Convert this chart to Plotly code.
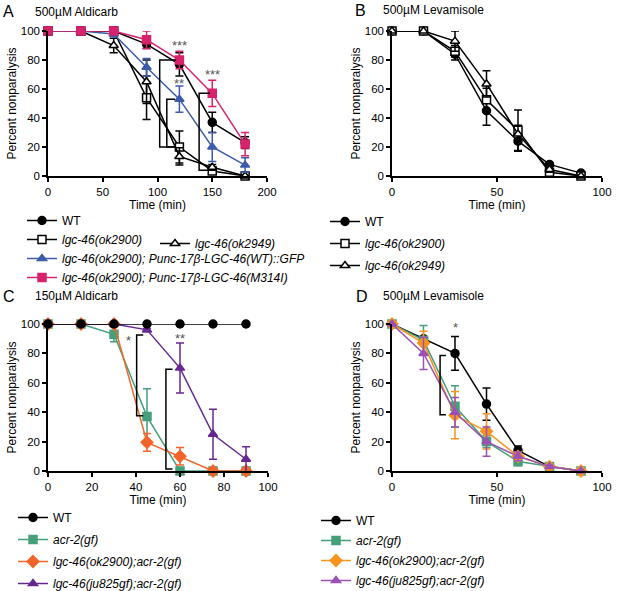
import plotly.graph_objects as go

# time points (min)
t_a = [0, 30, 60, 90, 120, 150, 180]
t_b = [0, 15, 30, 45, 60, 75, 90]

# A - 500uM aldicarb
a_wt = [100, 100, 100, 91, 77, 37, 23]
a_wt_err = [0, 0, 0, 3, 8, 7, 4]
a_ok2900 = [100, 100, 100, 54, 20, 3.5, 0]
a_ok2900_err = [0, 0, 0, 15, 11, 2, 0]
a_ok2949 = [100, 100, 90, 65, 13.5, 6, 0]
a_ok2949_err = [0, 0, 5, 15, 6, 2, 0]
a_resc_wt = [100, 100, 98, 75, 53, 20, 7.5]
a_resc_wt_err = [0, 0, 2, 6, 9, 10, 5]
a_resc_m = [100, 100, 100, 94, 80, 57, 22]
a_resc_m_err = [0, 0, 0, 6, 6, 9, 8]

# B - 500uM levamisole
b_wt = [100, 100, 84, 45, 24, 8, 2]
b_wt_err = [0, 0, 4, 10, 7, 1, 1]
b_ok2900 = [100, 100, 86, 52.5, 31.5, 2.5, 0]
b_ok2900_err = [0, 0, 4, 8, 14, 2, 0]
b_ok2949 = [100, 100, 93, 63.5, 29, 4.5, 0]
b_ok2949_err = [0, 0, 7, 9, 6, 2, 0]

# C - 150uM aldicarb
c_wt = [100, 100, 100, 100, 100, 100, 100]
c_wt_err = [0, 0, 0, 0, 0, 0, 0]
c_acr2 = [100, 100, 93, 37, 0, 0, 0]
c_acr2_err = [0, 0, 5, 19, 0, 0, 0]
c_ok2900 = [100, 100, 100, 19.5, 10, 0, 0]
c_ok2900_err = [0, 0, 0, 6, 6, 0, 0]
c_ju825 = [100, 100, 100, 96, 70, 25, 8]
c_ju825_err = [0, 0, 0, 1, 17, 17, 8.5]

# D - 500uM levamisole
d_wt = [100, 90, 80, 45.5, 14, 3, 0]
d_wt_err = [0, 0, 11.5, 11, 3, 1, 0]
d_acr2 = [100, 89, 44, 20, 6.5, 3, 0]
d_acr2_err = [0, 10, 14, 4, 3, 1, 0]
d_ok2900 = [100, 87, 38, 27, 10, 3, 0]
d_ok2900_err = [0, 8, 16, 12, 3, 1, 0]
d_ju825 = [100, 80, 40, 20, 10, 3, 0]
d_ju825_err = [0, 11, 10, 10, 3, 1, 0]

BLACK = '#000000'
BLUE = '#3d5ba9'
MAGENTA = '#d7226c'
GREEN = '#45a07a'
ORANGE_C = '#f2652a'
ORANGE_D = '#f7941e'
PURPLE_C = '#66288f'
PURPLE_D = '#9b51b6'
FONT = 'Liberation Sans, Arial, sans-serif'

W, H = 617, 591

fig = go.Figure()


def courbe(x, y, err, nom, couleur, symbole, axe, legende, rang, ouvert=False):
    fig.add_trace(go.Scatter(
        x=x, y=y, name=nom, mode='lines+markers',
        xaxis='x' + axe, yaxis='y' + axe, legend=legende,
        legendrank=rang, legendgroup=legende + str(rang),
        line=dict(color=couleur, width=1.5),
        marker=dict(symbol=symbole, size=8 if symbole != 'diamond' else 9,
                    color='white' if ouvert else couleur,
                    line=dict(color=couleur, width=1.5)),
        error_y=dict(type='data', array=err, color=couleur, thickness=1.5, width=4),
        cliponaxis=False,
    ))


# A
courbe(t_a, a_wt, a_wt_err, 'WT', BLACK, 'circle', '', 'legend', 1)
courbe(t_a, a_ok2900, a_ok2900_err, '<i>lgc-46(ok2900)</i>', BLACK, 'square', '', 'legend', 2, ouvert=True)
courbe(t_a, a_ok2949, a_ok2949_err, '<i>lgc-46(ok2949)</i>', BLACK, 'triangle-up', '', 'legend2', 1, ouvert=True)
courbe(t_a, a_resc_wt, a_resc_wt_err, '<i>lgc-46(ok2900); Punc-17β-LGC-46(WT)::GFP</i>', BLUE, 'triangle-up', '', 'legend', 3)
courbe(t_a, a_resc_m, a_resc_m_err, '<i>lgc-46(ok2900); Punc-17β-LGC-46(M314I)</i>', MAGENTA, 'square', '', 'legend', 4)

# B
courbe(t_b, b_wt, b_wt_err, 'WT', BLACK, 'circle', '2', 'legend3', 1)
courbe(t_b, b_ok2900, b_ok2900_err, '<i>lgc-46(ok2900)</i>', BLACK, 'square', '2', 'legend3', 2, ouvert=True)
courbe(t_b, b_ok2949, b_ok2949_err, '<i>lgc-46(ok2949)</i>', BLACK, 'triangle-up', '2', 'legend3', 3, ouvert=True)

# C (WT drawn last so it sits on top, but listed first)
courbe(t_b, c_acr2, c_acr2_err, '<i>acr-2(gf)</i>', GREEN, 'square', '3', 'legend4', 2)
courbe(t_b, c_ok2900, c_ok2900_err, '<i>lgc-46(ok2900);acr-2(gf)</i>', ORANGE_C, 'diamond', '3', 'legend4', 3)
courbe(t_b, c_ju825, c_ju825_err, '<i>lgc-46(ju825gf);acr-2(gf)</i>', PURPLE_C, 'triangle-up', '3', 'legend4', 4)
courbe(t_b, c_wt, c_wt_err, 'WT', BLACK, 'circle', '3', 'legend4', 1)

# D
courbe(t_b, d_wt, d_wt_err, 'WT', BLACK, 'circle', '4', 'legend5', 1)
courbe(t_b, d_acr2, d_acr2_err, '<i>acr-2(gf)</i>', GREEN, 'square', '4', 'legend5', 2)
courbe(t_b, d_ok2900, d_ok2900_err, '<i>lgc-46(ok2900);acr-2(gf)</i>', ORANGE_D, 'diamond', '4', 'legend5', 3)
courbe(t_b, d_ju825, d_ju825_err, '<i>lgc-46(ju825gf);acr-2(gf)</i>', PURPLE_D, 'triangle-up', '4', 'legend5', 4)


def px_x(p):
    return p / W


def px_y(p):
    return 1 - p / H


def axe_x(domaine, plage, pas):
    return dict(domain=domaine, range=plage, dtick=pas, tick0=0, automargin=False,
                showline=True, linecolor='black', linewidth=1.5,
                ticks='outside', ticklen=4, tickwidth=1.5, tickcolor='black',
                showgrid=False, zeroline=False,
                tickfont=dict(size=11.5, color='black'),
                title=dict(text='Time (min)', font=dict(size=12, color='black'), standoff=4))


def axe_y(domaine, ancre):
    return dict(domain=domaine, range=[0, 100], dtick=20, anchor=ancre, automargin=False,
                showline=True, linecolor='black', linewidth=1.5,
                ticks='outside', ticklen=4, tickwidth=1.5, tickcolor='black',
                showgrid=False, zeroline=False,
                tickfont=dict(size=11.5, color='black'),
                title=dict(text='Percent nonparalysis', font=dict(size=12, color='black'), standoff=2))


dom_ax = [px_x(48), px_x(267)]
dom_bx = [px_x(392), px_x(602)]
dom_cx = [px_x(48), px_x(268)]
dom_top = [px_y(176), px_y(31)]
dom_bot = [px_y(471), px_y(324)]

legende_base = dict(bgcolor='rgba(0,0,0,0)', font=dict(size=12, color='black'),
                    xanchor='left', yanchor='top')

fig.update_layout(
    width=W, height=H,
    margin=dict(l=0, r=0, t=0, b=0, autoexpand=False),
    paper_bgcolor='white', plot_bgcolor='white',
    font=dict(family=FONT, color='black'),
    xaxis=dict(axe_x(dom_ax, [0, 200], 50), anchor='y'),
    yaxis=axe_y(dom_top, 'x'),
    xaxis2=dict(axe_x(dom_bx, [0, 100], 50), anchor='y2'),
    yaxis2=axe_y(dom_top, 'x2'),
    xaxis3=dict(axe_x(dom_cx, [0, 100], 20), anchor='y3'),
    yaxis3=axe_y(dom_bot, 'x3'),
    xaxis4=dict(axe_x(dom_bx, [0, 100], 50), anchor='y4'),
    yaxis4=axe_y(dom_bot, 'x4'),
    legend=dict(legende_base, x=px_x(22), y=px_y(206), tracegroupgap=0),
    legend2=dict(legende_base, x=px_x(155), y=px_y(229), tracegroupgap=0),
    legend3=dict(legende_base, x=px_x(325), y=px_y(207), tracegroupgap=3),
    legend4=dict(legende_base, x=px_x(13), y=px_y(503), tracegroupgap=3),
    legend5=dict(legende_base, x=px_x(316), y=px_y(506), tracegroupgap=1),
)

# titres des panneaux
titres = [('A', '500µM Aldicarb', 1, 33, 12),
          ('B', '500µM Levamisole', 353, 381, 10),
          ('C', '150µM Aldicarb', 1, 33, 296),
          ('D', '500µM Levamisole', 354, 381, 296)]
for lettre, titre, xl, xt, yt in titres:
    fig.add_annotation(text=lettre, xref='paper', yref='paper', x=px_x(xl), y=px_y(yt),
                       xanchor='left', yanchor='middle', showarrow=False,
                       font=dict(size=16, color='black'))
    fig.add_annotation(text=titre, xref='paper', yref='paper', x=px_x(xt), y=px_y(yt),
                       xanchor='left', yanchor='middle', showarrow=False,
                       font=dict(size=12, color='black'))

# crochets de significativite : (axe, x vertical, x bout, y bas, y haut)
crochets = [('', 102, 117, 20, 80), ('', 108.5, 116, 20, 53), ('', 138, 148, 4, 57),
            ('3', 40.3, 43.3, 37.6, 92.5), ('3', 53.6, 56.6, 1.4, 69.2),
            ('4', 22.9, 25.7, 38.3, 78.5)]
for axe, x0, x1, y0, y1 in crochets:
    fig.add_shape(type='path', xref='x' + axe, yref='y' + axe,
                  path=f'M {x1},{y1} L {x0},{y1} L {x0},{y0} L {x1},{y0}',
                  line=dict(color='black', width=1.5))

etoiles = [('', 120, 90, '***'), ('', 120, 64, '**'), ('', 150, 70, '***'),
           ('3', 36.8, 89, '*'), ('3', 60, 90, '**'), ('4', 30, 97.8, '*')]
for axe, x, y, txt in etoiles:
    fig.add_annotation(text=txt, xref='x' + axe, yref='y' + axe, x=x, y=y,
                       showarrow=False, font=dict(size=13, color='#555555'),
                       yanchor='middle')

fig.write_html('out.html', config={'displayModeBar': False},
               post_script="document.body.style.margin='0';")
